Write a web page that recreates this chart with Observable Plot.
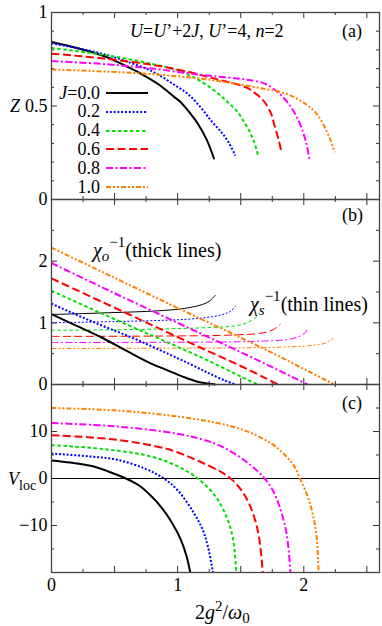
<!DOCTYPE html>
<html><head><meta charset="utf-8">
<script src="https://cdn.jsdelivr.net/npm/d3@7"></script>
<script src="https://cdn.jsdelivr.net/npm/@observablehq/plot@0.6"></script>
<style>
body{margin:0;background:#fff;}
#chart{position:relative;width:382px;height:626px;font-family:"Liberation Serif","Times New Roman",serif;color:#000;}
#chart svg{display:block;}
.ann{position:absolute;font-size:18px;white-space:nowrap;line-height:18px;}
.big{font-size:20px;line-height:20px;}
.sm{font-size:14px;}
.leg{position:absolute;left:40px;width:110px;height:18px;display:flex;align-items:center;font-size:18px;}
.leg span{display:inline-block;width:60px;text-align:right;}
.leg svg{margin-left:6px;}
</style></head><body><div id="chart"></div>
<script>
// ---- categories ----
const Jlabels = ["0.0","0.2","0.4","0.6","0.8","1.0"];

// ---- panel (a): Z vs 2g^2/w0 ----
const Z_00 = [[0,0.842],[0.2,0.81],[0.44,0.761],[0.6,0.71],[0.71,0.672],[0.85,0.615],[0.97,0.55],[1.025,0.52],[1.1,0.46],[1.16,0.405],[1.23,0.32],[1.29,0.215]];
const Z_02 = [[0,0.835],[0.2,0.81],[0.4,0.78],[0.575,0.743],[0.8,0.685],[0.97,0.615],[1.08,0.565],[1.18,0.495],[1.264,0.422],[1.34,0.365],[1.4,0.31],[1.457,0.235]];
const Z_04 = [[0,0.81],[0.4,0.775],[0.8,0.725],[1.0,0.69],[1.15,0.645],[1.29,0.583],[1.39,0.525],[1.476,0.467],[1.53,0.41],[1.58,0.35],[1.615,0.29],[1.64,0.226]];
const Z_06 = [[0,0.78],[0.4,0.755],[0.8,0.72],[1.1,0.68],[1.3,0.645],[1.45,0.62],[1.556,0.595],[1.63,0.56],[1.69,0.52],[1.74,0.46],[1.77,0.39],[1.8,0.32],[1.82,0.262]];
const Z_08 = [[0,0.74],[0.4,0.725],[0.8,0.70],[1.2,0.665],[1.5,0.645],[1.69,0.62],[1.8,0.57],[1.87,0.52],[1.93,0.46],[1.98,0.387],[2.02,0.30],[2.045,0.215]];
const Z_10 = [[0,0.695],[0.4,0.685],[0.8,0.67],[1.2,0.645],[1.45,0.62],[1.7,0.59],[1.82,0.574],[1.93,0.545],[2.03,0.503],[2.1,0.46],[2.165,0.387],[2.21,0.32],[2.244,0.253]];

// ---- panel (b): chi_o^-1 (thick) ----
const CO_00 = [[0,1.14],[0.2,0.95],[0.39,0.77],[0.6,0.54],[0.79,0.34],[0.92,0.23],[1.05,0.12],[1.15,0.05],[1.24,0.015],[1.3,0.0]];
const CO_02 = [[0,1.31],[0.3,1.04],[0.65,0.75],[0.9,0.52],[1.1,0.33],[1.25,0.18],[1.38,0.06],[1.46,0.0]];
const CO_04 = [[0,1.52],[0.4,1.15],[0.8,0.79],[1.1,0.52],[1.3,0.33],[1.5,0.13],[1.635,0.0]];
const CO_06 = [[0,1.72],[0.4,1.34],[0.8,0.96],[1.2,0.58],[1.5,0.30],[1.7,0.10],[1.794,0.0]];
const CO_08 = [[0,1.97],[0.5,1.48],[1.0,1.0],[1.4,0.62],[1.7,0.33],[1.9,0.13],[2.03,0.0]];
const CO_10 = [[0,2.22],[0.5,1.73],[1.0,1.24],[1.5,0.76],[1.8,0.46],[2.05,0.20],[2.244,0.0]];
// ---- panel (b): chi_s^-1 (thin) ----
const CS_00 = [[0,1.135],[0.4,1.16],[0.8,1.19],[1.0,1.22],[1.1,1.25],[1.2,1.30],[1.25,1.35],[1.3,1.45]];
const CS_02 = [[0,1.0],[0.5,1.02],[1.0,1.05],[1.2,1.08],[1.35,1.13],[1.42,1.19],[1.46,1.27]];
const CS_04 = [[0,0.88],[0.6,0.89],[1.2,0.92],[1.45,0.95],[1.55,1.0],[1.63,1.10]];
const CS_06 = [[0,0.78],[0.8,0.785],[1.4,0.80],[1.65,0.83],[1.75,0.88],[1.815,0.98]];
const CS_08 = [[0,0.68],[1.0,0.685],[1.6,0.70],[1.9,0.74],[2.0,0.82],[2.04,0.93]];
const CS_10 = [[0,0.583],[1.0,0.59],[1.7,0.60],[2.05,0.63],[2.17,0.67],[2.24,0.76]];

// ---- panel (c): V_loc ----
const V_00 = [[0,3.85],[0.15,3.4],[0.31,2.7],[0.45,1.5],[0.59,0],[0.7,-1.6],[0.8,-4.0],[0.866,-5.96],[0.95,-9.2],[1.025,-13.0],[1.07,-16.5],[1.1,-20]];
const V_02 = [[0,5.3],[0.3,4.7],[0.52,4.0],[0.75,2.0],[0.89,0],[1.0,-2.5],[1.13,-7.4],[1.2,-11],[1.24,-14.5],[1.28,-20]];
const V_04 = [[0,7.1],[0.4,6.3],[0.787,4.7],[1.0,2.6],[1.16,0],[1.3,-3.8],[1.397,-8.8],[1.44,-13],[1.465,-20]];
const V_06 = [[0,9.2],[0.5,8.3],[0.9,6.4],[1.05,5.04],[1.2,3.3],[1.35,1.3],[1.42,0],[1.5,-2.3],[1.56,-5.0],[1.61,-8.5],[1.645,-12.5],[1.675,-20]];
const V_08 = [[0,11.8],[0.5,11.1],[1.0,9.5],[1.29,7.5],[1.45,5.3],[1.58,2.8],[1.69,0],[1.76,-2.8],[1.82,-7],[1.865,-12],[1.894,-20]];
const V_10 = [[0,15.0],[0.5,14.5],[1.0,13.2],[1.4,11.3],[1.58,9.7],[1.75,7.3],[1.85,5.0],[1.92,2.8],[1.97,0],[2.03,-3.8],[2.07,-7.5],[2.1,-12],[2.117,-20]];

// ---- ticks ----
const xLabels = [0,1,2];
const xMajor = [0.5,1,1.5,2,2.5];
const xMinor = [0.25,0.75,1.25,1.75,2.25];
const aLabels = [0,0.5,1], aMajor = [0.5], aMinor = [0.1,0.2,0.3,0.4,0.6,0.7,0.8,0.9];
const bLabels = [0,1,2], bMajor = [1,2], bMinor = [0.5,1.5,2.5];
const cLabels = [-10,0,10], cMajor = [-10,0,10], cMinor = [-15,-5,5,15];

// ---- styles ----
const colors = ["#000000","#0000ff","#00e000","#ff0000","#ff00ff","#ff8000"];
const dashes = ["none","2,1.8","3.5,2.5","8,3.5","7,2.5,2,2.5","5,2,2,2,2,2"];
const W = 382, ML = 51, MR = 3, PW = W - ML - MR;
const FONT = "'Liberation Serif','Times New Roman',serif";
const fmt = d => d < 0 ? "\u2212" + (-d) : String(d);

function lines(series, width) {
  return series.map((s, i) => Plot.line(s, {x: d => d[0], y: d => d[1], stroke: colors[i], strokeWidth: width,
    strokeDasharray: dashes[i], strokeLinecap: "butt", strokeLinejoin: "round", curve: "catmull-rom"}));
}
function tickMarks(ph, yMaj, yMin) {
  const st = {stroke: "#333", strokeWidth: 1};
  return [
    Plot.ruleX(xMajor, {x: d => d, insetTop: ph - 6, ...st}),
    Plot.ruleX(xMajor, {x: d => d, insetBottom: ph - 6, ...st}),
    Plot.ruleX(xMinor, {x: d => d, insetTop: ph - 3, ...st}),
    Plot.ruleX(xMinor, {x: d => d, insetBottom: ph - 3, ...st}),
    Plot.ruleY(yMaj, {y: d => d, insetRight: PW - 6, ...st}),
    Plot.ruleY(yMaj, {y: d => d, insetLeft: PW - 6, ...st}),
    Plot.ruleY(yMin, {y: d => d, insetRight: PW - 3, ...st}),
    Plot.ruleY(yMin, {y: d => d, insetLeft: PW - 3, ...st})
  ];
}
const baseStyle = {background: "transparent", overflow: "visible", fontFamily: FONT, fontSize: "18px", color: "#000"};

const pa = Plot.plot({
  width: W, height: 199, marginTop: 12, marginBottom: 0, marginLeft: ML, marginRight: MR,
  x: {domain: [0, 2.6], axis: null}, y: {domain: [0, 1]}, style: baseStyle,
  marks: [
    ...tickMarks(187, aMajor, aMinor),
    Plot.axisY({ticks: aLabels, tickSize: 0, tickPadding: 4, tickFormat: fmt, label: null, fontSize: 18}),
    ...lines([Z_00, Z_02, Z_04, Z_06, Z_08, Z_10], 2),
    Plot.frame({stroke: "#444", strokeWidth: 1.3})
  ]
});
const pb = Plot.plot({
  width: W, height: 185, marginTop: 0, marginBottom: 0, marginLeft: ML, marginRight: MR,
  x: {domain: [0, 2.6], axis: null}, y: {domain: [0, 3]}, style: baseStyle,
  marks: [
    ...tickMarks(185, bMajor, bMinor),
    Plot.axisY({ticks: bLabels, tickSize: 0, tickPadding: 4, tickFormat: fmt, label: null, fontSize: 18}),
    ...lines([CS_00, CS_02, CS_04, CS_06, CS_08, CS_10], 1),
    ...lines([CO_00, CO_02, CO_04, CO_06, CO_08, CO_10], 2),
    Plot.frame({stroke: "#444", strokeWidth: 1.3})
  ]
});
const pc = Plot.plot({
  width: W, height: 242, marginTop: 0, marginBottom: 54, marginLeft: ML, marginRight: MR,
  x: {domain: [0, 2.6]}, y: {domain: [-20, 20]}, style: baseStyle, clip: true,
  marks: [
    ...tickMarks(188, cMajor, cMinor),
    Plot.axisY({ticks: cLabels, tickSize: 0, tickPadding: 4, tickFormat: fmt, label: null, fontSize: 18}),
    Plot.axisX({ticks: xLabels, tickSize: 0, tickPadding: 6, tickFormat: fmt, label: null, fontSize: 18}),
    Plot.ruleY([0], {stroke: "#000", strokeWidth: 1.2}),
    ...lines([V_00, V_02, V_04, V_06, V_08, V_10], 2),
    Plot.frame({stroke: "#444", strokeWidth: 1.3})
  ]
});
const root = document.getElementById("chart");
root.append(pa, pb, pc);

function ann(html, left, top, cls) {
  const d = document.createElement("div");
  d.className = "ann" + (cls ? " " + cls : ""); d.innerHTML = html;
  d.style.left = left + "px"; d.style.top = top + "px";
  root.append(d);
}
ann("<i>U</i>=<i>U</i>’+2<i>J</i>, <i>U</i>’=4, <i>n</i>=2", 130, 22);
ann("(a)", 342, 22);
ann("(b)", 342, 206);
ann("(c)", 342, 394);
ann("<i>Z</i>", 10, 97);
ann("<i>χ</i><sub class='sm' style='vertical-align:-4px;font-size:15px'><i>o</i></sub><sup class='sm' style='vertical-align:10px;font-size:15px'>−1</sup>(thick lines)", 93, 232, "big");
ann("<i>χ</i><sub class='sm' style='vertical-align:-4px;font-size:15px'><i>s</i></sub><sup class='sm' style='vertical-align:10px;font-size:15px'>−1</sup>(thin lines)", 250, 286, "big");
ann("<i>V</i><sub class='sm' style='vertical-align:-5px'>loc</sub>", 8, 470);
ann("2<i>g</i><sup class='sm' style='vertical-align:8px;font-size:15px'>2</sup>/<i>ω</i><sub class='sm' style='vertical-align:-4px;font-size:15px'>0</sub>", 195, 596, "big");

// legend
Jlabels.forEach((lab, i) => {
  const row = document.createElement("div");
  row.className = "leg";
  row.style.top = (84 + i * 18.8) + "px";
  const sp = document.createElement("span");
  sp.innerHTML = i === 0 ? "<i>J</i>=" + lab : lab;
  row.append(sp);
  const svg = d3.create("svg").attr("width", 42).attr("height", 6);
  svg.append("line").attr("x1", 0).attr("x2", 42).attr("y1", 3).attr("y2", 3)
    .attr("stroke", colors[i]).attr("stroke-width", 2).attr("stroke-dasharray", dashes[i]);
  row.append(svg.node());
  root.append(row);
});
</script></body></html>
